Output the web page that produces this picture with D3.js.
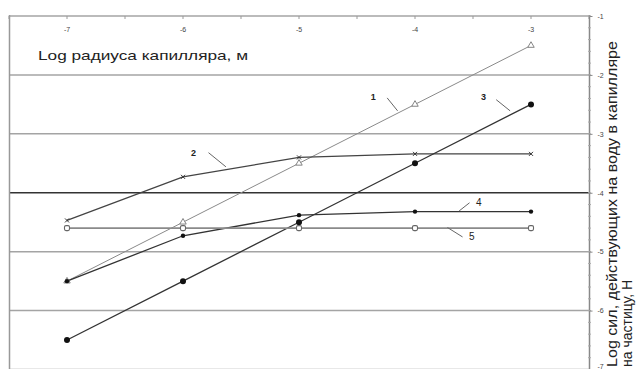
<!DOCTYPE html>
<html>
<head>
  <meta charset='utf-8'/>
  <style>
body { margin: 0; background: #fff; }
text { font-family: "Liberation Sans", Arial, sans-serif; }
.tick text { fill: #444; font-size: 7px; }
  </style>
  <script src="https://d3js.org/d3.v7.min.js"></script>
</head>
<body>
<svg width="643" height="369"></svg>
<script>

// log радиуса капилляра
var radius = [-7, -6, -5, -4, -3];

var s1 = [-5.5, -4.5, -3.5, -2.5, -1.5];
var s2 = [-4.47, -3.73, -3.4, -3.34, -3.34];
var s3 = [-6.5, -5.5, -4.5, -3.5, -2.5];
var s4 = [-5.5, -4.73, -4.38, -4.32, -4.32];
var s5 = [-4.6, -4.6, -4.6, -4.6, -4.6];

var yTicks = [-1, -2, -3, -4, -5, -6, -7];

// series label positions (data units) and leader lines
var labels = [
  {t: "1", x: -4.36, y: -2.37, l: [[-4.24, -2.39], [-4.15, -2.61]], bold: true},
  {t: "2", x: -5.91, y: -3.32, l: [[-5.78, -3.32], [-5.63, -3.56]], bold: true},
  {t: "3", x: -3.41, y: -2.37, l: [[-3.30, -2.42], [-3.18, -2.61]], bold: true},
  {t: "4", x: -3.45, y: -4.17, l: [[-3.53, -4.17], [-3.62, -4.31]], bold: false},
  {t: "5", x: -3.51, y: -4.75, l: [[-3.72, -4.59], [-3.59, -4.75]], bold: false}
];

var svg = d3.select("svg");

var x = d3.scaleLinear().domain([-7.5, -2.5]).range([9, 589]);
var y = d3.scaleLinear().domain([-7, -1]).range([369.5, 16]);

// grid
svg.append("g").selectAll("line")
  .data(yTicks)
  .enter().append("line")
    .attr("x1", 9).attr("x2", 589)
    .attr("y1", function(d) { return y(d); })
    .attr("y2", function(d) { return y(d); })
    .attr("stroke", function(d) { return d == -4 ? "#333" : "#a4a4a4"; })
    .attr("stroke-width", 1.5);

// left border
svg.append("line")
    .attr("x1", 9.5).attr("x2", 9.5).attr("y1", 15).attr("y2", 369)
    .attr("stroke", "#999").attr("stroke-width", 1.5);

// top axis (radius)
var topAxis = svg.append("g").attr("transform", "translate(0," + y(-1) + ")");
topAxis.selectAll("line")
  .data(d3.range(-7.5, -2.4, 0.5))
  .enter().append("line")
    .attr("x1", function(d) { return x(d); })
    .attr("x2", function(d) { return x(d); })
    .attr("y1", 0).attr("y2", 3)
    .attr("stroke", "#999");
topAxis.selectAll("text")
  .data(radius)
  .enter().append("text")
    .attr("x", function(d) { return x(d); })
    .attr("y", 16)
    .attr("text-anchor", "middle")
    .style("font-size", "7px").style("fill", "#444")
    .text(function(d) { return String(d); });

// right axis
var rightAxis = svg.append("g").attr("transform", "translate(589.5,0)");
rightAxis.append("line").attr("y1", 15).attr("y2", 369).attr("stroke", "#888").attr("stroke-width", 1.5);
rightAxis.selectAll(".minor")
  .data(d3.range(-7, -0.99, 0.2))
  .enter().append("line")
    .attr("x1", -1.5).attr("x2", 1.5)
    .attr("y1", function(d) { return y(d); })
    .attr("y2", function(d) { return y(d); })
    .attr("stroke", "#aaa");
rightAxis.call(d3.axisRight(y).tickValues(yTicks).tickSize(3).tickPadding(5)
    .tickFormat(function(d) { return String(d); }))
  .call(function(g) { g.select(".domain").remove(); })
  .call(function(g) { g.selectAll(".tick line").attr("stroke", "#888"); })
  .call(function(g) {
    // lowest label sits on the edge of the picture: lift it a little
    g.selectAll(".tick text").filter(function(d) { return d == -7; }).attr("dy", "-0.2em");
  });

// series
var series = [
  {v: s1, color: "#8a8a8a", w: 1, m: "tri"},
  {v: s2, color: "#444", w: 1.3, m: "x"},
  {v: s3, color: "#333", w: 1.3, m: "dot"},
  {v: s4, color: "#333", w: 1.3, m: "small"},
  {v: s5, color: "#8a8a8a", w: 1.6, m: "sq"}
];

var line = d3.line()
    .x(function(d, i) { return x(radius[i]); })
    .y(function(d) { return y(d); });

series.forEach(function(s) {
  svg.append("path")
      .datum(s.v)
      .attr("d", line)
      .attr("fill", "none")
      .attr("stroke", s.color)
      .attr("stroke-width", s.w);
});

series.forEach(function(s) {
  var g = svg.append("g");
  s.v.forEach(function(v, i) {
    var cx = x(radius[i]), cy = y(v);
    if (s.m == "tri") {
      g.append("path")
          .attr("d", d3.symbol(d3.symbolTriangle, 18)())
          .attr("transform", "translate(" + cx + "," + cy + ")")
          .attr("fill", "#fff").attr("stroke", "#777").attr("stroke-width", 0.9);
    } else if (s.m == "x") {
      g.append("path")
          .attr("d", "M-2,-2L2,2M-2,2L2,-2")
          .attr("transform", "translate(" + cx + "," + cy + ")")
          .attr("stroke", "#333").attr("stroke-width", 1);
    } else if (s.m == "dot") {
      g.append("circle").attr("cx", cx).attr("cy", cy).attr("r", 3).attr("fill", "#111");
    } else if (s.m == "small") {
      g.append("circle").attr("cx", cx).attr("cy", cy).attr("r", 2.2).attr("fill", "#111");
    } else {
      g.append("rect")
          .attr("x", cx - 2.5).attr("y", cy - 2.5).attr("width", 5).attr("height", 5)
          .attr("rx", 1.5)
          .attr("fill", "#fff").attr("stroke", "#666").attr("stroke-width", 1.1);
    }
  });
});

// series labels
labels.forEach(function(d) {
  svg.append("line")
      .attr("x1", x(d.l[0][0])).attr("y1", y(d.l[0][1]))
      .attr("x2", x(d.l[1][0])).attr("y2", y(d.l[1][1]))
      .attr("stroke", "#666").attr("stroke-width", 1);
  svg.append("text")
      .attr("x", x(d.x)).attr("y", y(d.y))
      .attr("dy", "0.35em")
      .attr("text-anchor", "middle")
      .style("font-size", d.bold ? "9px" : "10px")
      .style("font-weight", d.bold ? "bold" : "normal")
      .style("fill", "#222")
      .text(d.t);
});

// axis titles
svg.append("text")
    .attr("x", 38).attr("y", 60)
    .attr("textLength", 210).attr("lengthAdjust", "spacingAndGlyphs")
    .style("font-size", "13.5px").style("fill", "#222")
    .text("Log радиуса капилляра, м");

svg.append("text")
    .attr("transform", "translate(617,367) rotate(-90)")
    .attr("textLength", 326).attr("lengthAdjust", "spacingAndGlyphs")
    .style("font-size", "15px").style("fill", "#222")
    .text("Log сил, действующих на воду в капилляре");
svg.append("text")
    .attr("transform", "translate(632,367) rotate(-90)")
    .style("font-size", "14px").style("fill", "#222")
    .text("на частицу, Н");

</script>
</body>
</html>
